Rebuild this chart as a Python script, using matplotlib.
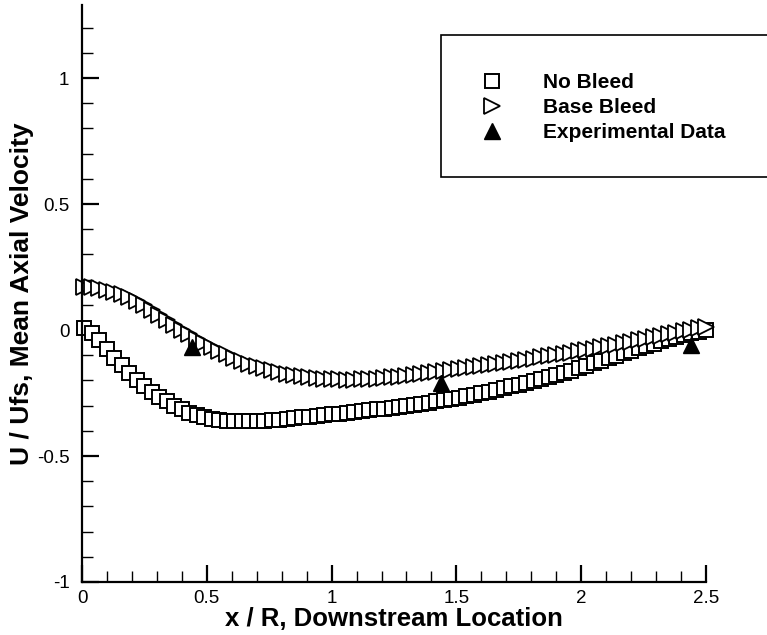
import matplotlib
matplotlib.use("Agg")
import matplotlib.pyplot as plt
from matplotlib.ticker import MultipleLocator, FuncFormatter
import matplotlib.patches as patches
from matplotlib.lines import Line2D

plt.rcParams['font.family'] = ['Liberation Sans', 'DejaVu Sans']
plt.rcParams['axes.unicode_minus'] = False

# shared CFD grid along the axis
x_cfd = [0.01, 0.04, 0.07, 0.10, 0.13, 0.16, 0.19, 0.22, 0.25, 0.28,
         0.31, 0.34, 0.37, 0.40, 0.43, 0.46, 0.49, 0.52, 0.55, 0.58,
         0.61, 0.64, 0.67, 0.70, 0.73, 0.76, 0.79, 0.82, 0.85, 0.88,
         0.91, 0.94, 0.97, 1.00, 1.03, 1.06, 1.09, 1.12, 1.15, 1.18,
         1.21, 1.24, 1.27, 1.30, 1.33, 1.36, 1.39, 1.42, 1.45, 1.48,
         1.51, 1.54, 1.57, 1.60, 1.63, 1.66, 1.69, 1.72, 1.75, 1.78,
         1.81, 1.84, 1.87, 1.90, 1.93, 1.96, 1.99, 2.02, 2.05, 2.08,
         2.11, 2.14, 2.17, 2.20, 2.23, 2.26, 2.29, 2.32, 2.35, 2.38,
         2.41, 2.44, 2.47, 2.50]

no_bleed = [0.010, -0.010, -0.040, -0.075, -0.110, -0.140, -0.170, -0.197, -0.222, -0.245,
            -0.265, -0.283, -0.300, -0.315, -0.328, -0.338, -0.346, -0.352, -0.357, -0.360,
            -0.362, -0.363, -0.363, -0.362, -0.360, -0.358, -0.356, -0.353, -0.350, -0.347,
            -0.344, -0.341, -0.338, -0.335, -0.332, -0.329, -0.326, -0.322, -0.319, -0.315,
            -0.312, -0.308, -0.304, -0.300, -0.296, -0.292, -0.288, -0.283, -0.278, -0.273,
            -0.268, -0.263, -0.257, -0.251, -0.245, -0.238, -0.231, -0.224, -0.217, -0.210,
            -0.202, -0.194, -0.186, -0.178, -0.170, -0.161, -0.152, -0.142, -0.132, -0.122,
            -0.112, -0.102, -0.092, -0.082, -0.072, -0.063, -0.054, -0.045, -0.037, -0.029,
            -0.021, -0.013, -0.006, 0.001]

base_bleed = [0.172, 0.170, 0.166, 0.160, 0.152, 0.142, 0.130, 0.115, 0.098, 0.080,
              0.060, 0.040, 0.020, 0.001, -0.017, -0.035, -0.052, -0.068, -0.083, -0.097,
              -0.110, -0.122, -0.133, -0.143, -0.152, -0.160, -0.167, -0.173, -0.178, -0.183,
              -0.187, -0.190, -0.193, -0.195, -0.196, -0.197, -0.197, -0.196, -0.195, -0.193,
              -0.191, -0.188, -0.185, -0.182, -0.179, -0.175, -0.172, -0.168, -0.164, -0.160,
              -0.156, -0.152, -0.148, -0.144, -0.140, -0.136, -0.132, -0.127, -0.123, -0.118,
              -0.114, -0.109, -0.105, -0.100, -0.095, -0.090, -0.085, -0.080, -0.075, -0.069,
              -0.064, -0.058, -0.053, -0.047, -0.041, -0.035, -0.029, -0.023, -0.017, -0.011,
              -0.005, 0.001, 0.007, 0.013]

x_exp = [0.44, 1.44, 2.44]
u_exp = [-0.068, -0.21, -0.06]

labels = ["No Bleed", "Base Bleed", "Experimental Data"]

sq_style = dict(linestyle='none', marker='s', markersize=10, markerfacecolor='white',
                markeredgecolor='black', markeredgewidth=1.4)
tri_style = dict(linestyle='none', marker='>', markersize=11, markerfacecolor='white',
                 markeredgecolor='black', markeredgewidth=1.3)
exp_style = dict(linestyle='none', marker='^', markersize=11, color='black')

W, H = 767, 635
fig = plt.figure(figsize=(W / 100, H / 100), dpi=100)
ax = fig.add_axes([82 / W, (H - 582) / H, (706 - 82) / W, (582 - 5) / H])

ax.plot(x_cfd, no_bleed, clip_on=False, **sq_style)
ax.plot(x_cfd, base_bleed, clip_on=False, **tri_style)
ax.plot(x_exp, u_exp, zorder=5, **exp_style)

ax.set_xlim(0, 2.5)
ax.set_ylim(-1, 1.29)
ax.spines['top'].set_visible(False)
ax.spines['right'].set_visible(False)
ax.spines['left'].set_linewidth(1.6)
ax.spines['bottom'].set_linewidth(1.6)

ax.xaxis.set_major_locator(MultipleLocator(0.5))
ax.xaxis.set_minor_locator(MultipleLocator(0.1))
ax.yaxis.set_major_locator(MultipleLocator(0.5))
ax.yaxis.set_minor_locator(MultipleLocator(0.1))
fmt = FuncFormatter(lambda v, p: '%g' % v)
ax.xaxis.set_major_formatter(fmt)
ax.yaxis.set_major_formatter(fmt)
ax.tick_params(which='major', direction='in', length=12, width=1.6, labelsize=13.5, pad=9)
ax.tick_params(which='minor', direction='in', length=8, width=1.0)
ax.tick_params(axis='x', which='major', pad=6)

ax.set_xlabel("x / R, Downstream Location", fontsize=18.5, fontweight='bold', labelpad=0)
ax.set_ylabel("U / Ufs, Mean Axial Velocity", fontsize=19, fontweight='bold', labelpad=2)

# legend box (runs off the right edge in the original)
box = patches.Rectangle((441 / W, (H - 177) / H), (W + 20 - 441) / W, (177 - 35) / H,
                        transform=fig.transFigure, facecolor='white', edgecolor='black',
                        linewidth=1.2, clip_on=False)
fig.patches.append(box)

handles = [Line2D([], [], **sq_style), Line2D([], [], **tri_style), Line2D([], [], **exp_style)]
leg = fig.legend(handles, labels, loc='upper left', bbox_to_anchor=(483 / W, (H - 73) / H),
                 frameon=False, borderpad=0, borderaxespad=0, handlelength=0.87,
                 handletextpad=2.0, labelspacing=0.3,
                 prop={'weight': 'bold', 'size': 15})

fig.savefig("out.png", dpi=100)
